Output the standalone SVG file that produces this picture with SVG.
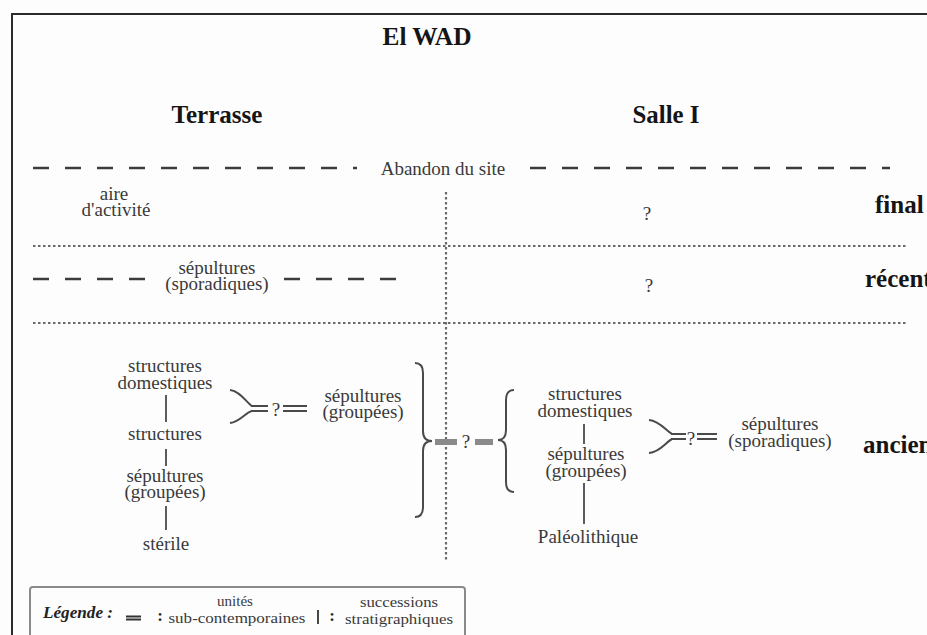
<svg xmlns="http://www.w3.org/2000/svg" width="927" height="635" viewBox="0 0 927 635">
<style>
  .t{font-family:"Liberation Serif","Times New Roman",serif;font-size:19px;fill:#3a3a3a;text-anchor:middle}
  .h{font-family:"Liberation Serif","Times New Roman",serif;font-size:25px;font-weight:bold;fill:#151515}
  .lg{font-family:"Liberation Serif","Times New Roman",serif;font-size:15px;fill:#3a3a3a;text-anchor:middle}
  .dash{stroke:#3c3c3c;stroke-width:2.5;stroke-dasharray:16 16;fill:none}
  .dot{stroke:#6a6a6a;stroke-width:2.2;stroke-dasharray:2.5 2.5;fill:none}
  .ln{stroke:#4a4a4a;stroke-width:1.8;fill:none}
  .br{stroke:#4a4a4a;stroke-width:2;fill:none}
  .bar{stroke:#8a8a8a;stroke-width:6;fill:none}
</style>
<rect width="927" height="635" fill="#fdfdfd"/>
<g id="frame">
  <path d="M12,635 L12,14 L927,14" stroke="#2a2a2a" stroke-width="2" fill="none"/>
</g>
<g id="titles">
  <text class="h" x="427" y="45" text-anchor="middle" textLength="89" lengthAdjust="spacingAndGlyphs">El WAD</text>
  <text class="h" x="217" y="123" text-anchor="middle" textLength="91" lengthAdjust="spacingAndGlyphs">Terrasse</text>
  <text class="h" x="666" y="123" text-anchor="middle" textLength="67" lengthAdjust="spacingAndGlyphs">Salle I</text>
  <text class="h" x="875" y="213">final</text>
  <text class="h" x="865" y="287">récent</text>
  <text class="h" x="863" y="453">ancien</text>
</g>
<g id="connectors">
  <line class="dash" x1="33" y1="168" x2="357" y2="168"/>
  <line class="dash" x1="530" y1="168" x2="890" y2="168"/>
  <line class="dot" x1="33" y1="246" x2="908" y2="246"/>
  <line class="dot" x1="33" y1="323" x2="908" y2="323"/>
  <line class="dot" x1="446" y1="192" x2="446" y2="562"/>
  <line class="dash" x1="33" y1="279" x2="146" y2="279"/>
  <line class="dash" x1="284" y1="279" x2="400" y2="279"/>
  <line class="ln" x1="166" y1="395" x2="166" y2="422"/>
  <line class="ln" x1="166" y1="449" x2="166" y2="466"/>
  <line class="ln" x1="166" y1="506" x2="166" y2="530"/>
  <line class="ln" x1="584" y1="424" x2="584" y2="444"/>
  <line class="ln" x1="584" y1="483" x2="584" y2="524"/>
  <path class="br" d="M230,390 C240,391 246,402 252,406 M230,423 C240,422 246,412 252,411"/>
  <path class="ln" d="M251,406 H268 M251,411 H268 M283,406 H307 M283,411 H307"/>
  <path class="br" d="M415,363 Q423,363 423,373 L423,431 Q423,441 432,441 Q423,441 423,451 L423,507 Q423,517 415,517"/>
  <path class="bar" d="M435,442 H457 M475,442 H493"/>
  <path class="br" d="M514,390 Q506,390 506,400 L506,430 Q506,440 498,440 Q506,440 506,450 L506,482 Q506,492 514,492"/>
  <path class="br" d="M649,420 C660,421 666,431 672,434 M649,453 C660,452 666,442 672,439"/>
  <path class="ln" d="M671,434 H686 M671,439 H686 M697,434 H717 M697,439 H717"/>
</g>
<g id="n-abandon"><text class="t" x="443" y="175" font-size="21">Abandon du site</text></g>
<g id="n-aire"><text class="t" x="114" y="200">aire</text><text class="t" x="116" y="216">d'activité</text></g>
<g id="n-q1"><text class="t" x="647" y="220">?</text></g>
<g id="n-sep-spor-t"><text class="t" x="217" y="274">sépultures</text><text class="t" x="217" y="290">(sporadiques)</text></g>
<g id="n-q2"><text class="t" x="649" y="292">?</text></g>
<g id="n-struct-dom-t"><text class="t" x="165" y="372">structures</text><text class="t" x="165" y="389">domestiques</text></g>
<g id="n-struct-t"><text class="t" x="165" y="440">structures</text></g>
<g id="n-sep-grp-t"><text class="t" x="165" y="482">sépultures</text><text class="t" x="165" y="498">(groupées)</text></g>
<g id="n-sterile"><text class="t" x="166" y="550">stérile</text></g>
<g id="n-q3"><text class="t" x="276" y="416">?</text></g>
<g id="n-sep-grp-t2"><text class="t" x="363" y="402">sépultures</text><text class="t" x="363" y="418">(groupées)</text></g>
<g id="n-q4"><text class="t" x="466" y="448">?</text></g>
<g id="n-struct-dom-s"><text class="t" x="585" y="400">structures</text><text class="t" x="585" y="417">domestiques</text></g>
<g id="n-sep-grp-s"><text class="t" x="586" y="460">sépultures</text><text class="t" x="586" y="477">(groupées)</text></g>
<g id="n-paleo"><text class="t" x="588" y="543">Paléolithique</text></g>
<g id="n-q5"><text class="t" x="691" y="445">?</text></g>
<g id="n-sep-spor-s"><text class="t" x="780" y="430">sépultures</text><text class="t" x="780" y="447">(sporadiques)</text></g>
<g id="legend">
  <rect x="30" y="587" width="435" height="60" rx="3" fill="none" stroke="#8a8a8a" stroke-width="2"/>
  <text x="43" y="618" font-family="Liberation Serif, serif" font-size="17" font-weight="bold" font-style="italic" fill="#222" textLength="70" lengthAdjust="spacingAndGlyphs">Légende :</text>
  <path d="M126,616.5 H141 M126,619.5 H141" stroke="#333" stroke-width="2" fill="none"/>
  <text x="160" y="621" font-family="Liberation Serif, serif" font-size="17" font-weight="bold" fill="#222" text-anchor="middle">:</text>
  <text class="lg" x="235" y="606">unités</text>
  <text class="lg" x="237" y="623" textLength="137" lengthAdjust="spacingAndGlyphs">sub-contemporaines</text>
  <line x1="318" y1="610" x2="318" y2="624" stroke="#333" stroke-width="1.8"/>
  <text x="332" y="621" font-family="Liberation Serif, serif" font-size="17" font-weight="bold" fill="#222" text-anchor="middle">:</text>
  <text class="lg" x="399" y="607" textLength="78" lengthAdjust="spacingAndGlyphs">successions</text>
  <text class="lg" x="399" y="624" textLength="108" lengthAdjust="spacingAndGlyphs">stratigraphiques</text>
</g>
</svg>
